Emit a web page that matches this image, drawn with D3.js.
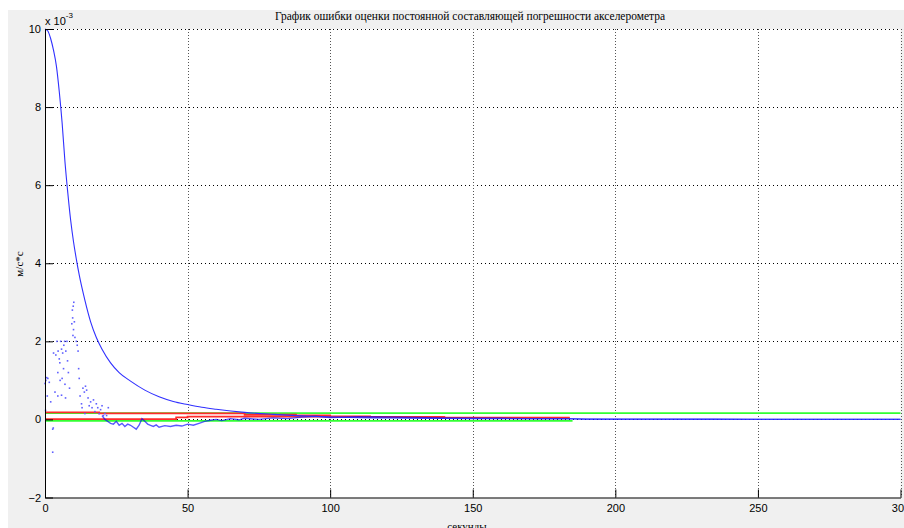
<!DOCTYPE html>
<html>
<head>
<meta charset="utf-8">
<script src="https://cdn.jsdelivr.net/npm/d3@7"></script>
<style>
  body { margin: 0; background: #ffffff; }
</style>
</head>
<body>
<svg id="chart" width="904" height="528"></svg>
<script>
// Подписи осей и деления
var xTicks = [0, 50, 100, 150, 200, 250, 300];
var yTicks = [-2, 0, 2, 4, 6, 8, 10];

// Огибающая (синяя убывающая кривая), единицы 1e-3
var envT = [0, 1, 2, 3, 4, 5, 6, 7, 8, 9, 10, 11, 12, 14, 16, 18, 20, 23, 26, 30, 35, 40, 45, 50, 55, 60, 70, 80, 90, 100, 120, 150, 200, 250, 300];
var envV = [10, 9.95, 9.75, 9.45, 9.05, 8.4, 7.6, 6.6, 5.8, 5.1, 4.55, 4.1, 3.7, 3.05, 2.5, 2.1, 1.8, 1.45, 1.2, 0.98, 0.75, 0.58, 0.46, 0.38, 0.31, 0.26, 0.18, 0.13, 0.09, 0.06, 0.035, 0.02, 0.01, 0.005, 0.003];

// Разброс точек оценки в начале процесса
var dotT = [0, 0.3, 0.6, 1.0, 1.5, 0.8, 2.0, 2.7, 2.9, 2.7, 0.2, 3.0, 3.8, 4.2, 4.6, 5.0, 5.5, 5.8, 6.2, 6.5, 6.9, 7.3, 7.7, 7.9, 4.5, 5.3, 6.0, 7.0, 3.5, 4.5, 5.8, 7.2, 8.2, 8.6, 9.4, 9.6, 9.9, 10.1, 10.3, 9.8, 10.5, 11.0, 11.3, 11.6, 11.8, 12.0, 12.3, 12.8, 13.3, 13.8, 14.2, 14.6, 15.1, 15.5, 16.0, 16.5, 17.0, 17.5, 18.0, 18.5, 19.0, 19.5, 20.0, 20.5, 21.0, 21.6, 13.0, 14.0, 22.2, 9.7, 10.0, 5.2, 6.6];
var dotV = [0.92, 1.0, 1.07, 1.05, 0.95, 0.6, 0.45, -0.25, -0.22, -0.84, 0.23, 1.7, 1.65, 2.0, 1.75, 1.55, 2.0, 1.8, 1.7, 1.3, 2.0, 1.75, 2.0, 1.5, 1.2, 1.0, 1.05, 0.9, 0.7, 0.6, 0.62, 0.55, 1.2, 0.8, 2.45, 2.8, 2.9, 3.0, 2.5, 2.15, 2.1, 2.0, 1.9, 1.75, 1.3, 1.05, 0.6, 0.4, 0.8, 0.7, 0.85, 0.75, 0.55, 0.35, 0.45, 0.3, 0.5, 0.2, 0.4, 0.3, 0.15, 0.25, 0.35, 0.1, 0.15, 0.1, 0.3, 0.15, 0.3, 2.6, 2.3, 1.45, 1.9];

// Ошибка оценки (синяя шумная линия)
var errT = [20, 21, 22, 23, 24, 25, 26, 27, 28, 29, 30, 31, 32, 33, 34, 35, 36, 37, 38, 39, 40, 42, 44, 46, 48, 50, 52, 54, 56, 58, 60, 62, 65, 68, 70, 75, 80, 85, 90, 95, 100, 110, 120, 130, 140, 150, 160, 170, 184, 190, 200, 250, 300];
var errV = [0.1, 0.0, -0.05, -0.1, -0.12, -0.05, -0.15, -0.1, -0.18, -0.12, -0.15, -0.2, -0.25, -0.15, 0.02, -0.05, -0.12, -0.15, -0.18, -0.14, -0.2, -0.16, -0.18, -0.15, -0.17, -0.12, -0.15, -0.1, -0.05, -0.02, 0.0, -0.03, 0.02, -0.01, 0.03, 0.0, 0.04, 0.02, 0.06, 0.08, 0.05, 0.07, 0.06, 0.05, 0.04, 0.03, 0.03, 0.02, 0.02, 0.0, 0.0, 0.0, 0.0];

// Красные ступенчатые линии
var red1T = [0, 19, 70, 88, 100, 114, 140, 184];
var red1V = [0.18, 0.155, 0.12, 0.1, 0.08, 0.06, 0.035, 0.035];
var red2T = [0, 46, 50, 100, 140, 184];
var red2V = [0.01, 0.05, 0.07, 0.065, 0.045, 0.045];

// Зелёные постоянные линии
var green1T = [0, 300];
var green1V = [0.16, 0.16];
var green2T = [0, 185];
var green2V = [-0.035, -0.035];

var titleText = "График ошибки оценки постоянной составляющей погрешности акселерометра";
var xLabel = "секунды";
var yLabel = "м/с*с";

var svg = d3.select("#chart");

// Серый фон фигуры и белая область осей
svg.append("rect").attr("x", 8).attr("y", 10).attr("width", 896).attr("height", 518).attr("fill", "#f0f0f0");

var x = d3.scaleLinear().domain([0, 300]).range([45, 900.5]);
var y = d3.scaleLinear().domain([-2, 10]).range([497.5, 29]);

svg.append("rect")
    .attr("x", x(0)).attr("y", y(10))
    .attr("width", x(300) - x(0)).attr("height", y(-2) - y(10))
    .attr("fill", "#ffffff");

// Сетка пунктиром
var grid = svg.append("g");
grid.selectAll("line.gy")
    .data(yTicks.filter(function(d) { return d > -2; }))
    .enter().append("line")
    .attr("x1", x(0)).attr("x2", x(300))
    .attr("y1", function(d) { return Math.round(y(d)) + 0.5; })
    .attr("y2", function(d) { return Math.round(y(d)) + 0.5; })
    .attr("stroke", "#000").attr("stroke-dasharray", "1,3");
grid.selectAll("line.gx")
    .data(xTicks.filter(function(d) { return d > 0; }))
    .enter().append("line")
    .attr("y1", y(10)).attr("y2", y(-2))
    .attr("x1", function(d) { return Math.round(x(d)) + 0.5; })
    .attr("x2", function(d) { return Math.round(x(d)) + 0.5; })
    .attr("stroke", "#555").attr("stroke-dasharray", "1,2");

function pts(ts, vs) {
    return ts.map(function(t, i) { return [t, vs[i]]; });
}

var stepLine = d3.line()
    .x(function(d) { return x(d[0]); })
    .y(function(d) { return y(d[1]); })
    .curve(d3.curveStepAfter);

var plainLine = d3.line()
    .x(function(d) { return x(d[0]); })
    .y(function(d) { return y(d[1]); });

var smoothLine = d3.line()
    .x(function(d) { return x(d[0]); })
    .y(function(d) { return y(d[1]); })
    .curve(d3.curveMonotoneX);

// Зелёные
[[green1T, green1V], [green2T, green2V]].forEach(function(s) {
    svg.append("path")
        .attr("d", plainLine(pts(s[0], s[1])))
        .attr("fill", "none").attr("stroke", "#33ff33").attr("stroke-width", 1.8);
});

// Красные
[[red1T, red1V], [red2T, red2V]].forEach(function(s) {
    svg.append("path")
        .attr("d", stepLine(pts(s[0], s[1])))
        .attr("fill", "none").attr("stroke", "#ff2a2a").attr("stroke-width", 1.8);
});

// Шумная ошибка
svg.append("path")
    .attr("d", plainLine(pts(errT, errV)))
    .attr("fill", "none").attr("stroke", "#0000ff").attr("stroke-width", 1.4)
    .attr("stroke-opacity", 0.65);

// Огибающая
svg.append("path")
    .attr("d", smoothLine(pts(envT, envV)))
    .attr("fill", "none").attr("stroke", "#3030ff").attr("stroke-width", 1.1);

// Точки
svg.append("g").selectAll("rect")
    .data(pts(dotT, dotV))
    .enter().append("rect")
    .attr("x", function(d) { return x(d[0]) - 0.8; })
    .attr("y", function(d) { return y(d[1]) - 0.8; })
    .attr("width", 1.6).attr("height", 1.6)
    .attr("fill", "#6060ff");

// Оси
var yAxis = svg.append("g")
    .attr("transform", "translate(" + x(0) + ",0)")
    .call(d3.axisLeft(y).tickValues(yTicks).tickSizeInner(-8).tickSizeOuter(0).tickPadding(4));
var xAxis = svg.append("g")
    .attr("transform", "translate(0," + y(-2) + ")")
    .call(d3.axisBottom(x).tickValues(xTicks).tickSizeInner(-8).tickSizeOuter(0).tickPadding(7));

[yAxis, xAxis].forEach(function(a) {
    a.selectAll("text")
        .attr("fill", "#000")
        .style("font-family", "'Liberation Sans', Arial, sans-serif")
        .style("font-size", "11px");
    a.selectAll("line").attr("stroke", "#000");
    a.select(".domain").attr("stroke", "#000");
});

// Множитель x 10^-3
var mult = svg.append("text")
    .attr("x", 45).attr("y", 25)
    .style("font-family", "'Liberation Sans', Arial, sans-serif")
    .style("font-size", "11px");
mult.append("tspan").text("x 10");
mult.append("tspan").attr("dy", -7).style("font-size", "8px").text("-3");

// Заголовок и подписи
svg.append("text")
    .attr("x", 470).attr("y", 20)
    .attr("text-anchor", "middle")
    .attr("textLength", 390).attr("lengthAdjust", "spacingAndGlyphs")
    .style("font-family", "'Liberation Serif', 'Times New Roman', serif")
    .style("font-size", "12px")
    .text(titleText);

svg.append("text")
    .attr("x", 467).attr("y", 530)
    .attr("text-anchor", "middle")
    .style("font-family", "'Liberation Serif', 'Times New Roman', serif")
    .style("font-size", "11px")
    .text(xLabel);

svg.append("text")
    .attr("transform", "translate(23,264) rotate(-90)")
    .attr("text-anchor", "middle")
    .style("font-family", "'Liberation Serif', 'Times New Roman', serif")
    .style("font-size", "11px")
    .text(yLabel);
</script>
</body>
</html>
